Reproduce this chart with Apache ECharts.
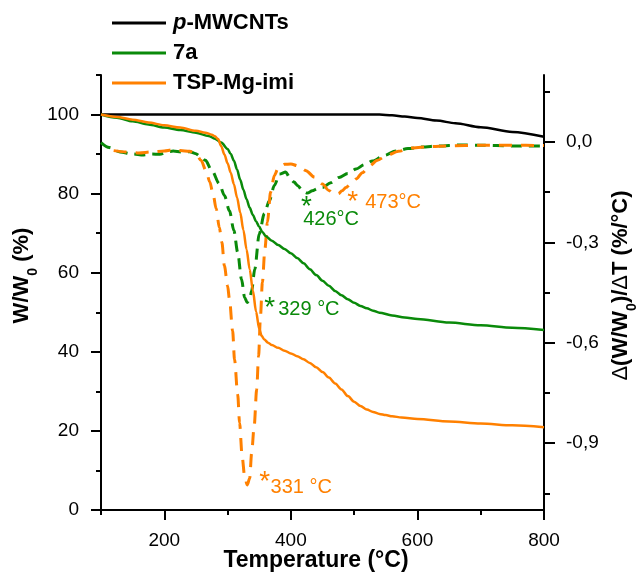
<!DOCTYPE html>
<html>
<head>
<meta charset="utf-8">
<script src="https://cdn.jsdelivr.net/npm/echarts@6/dist/echarts.min.js"></script>
<style>html,body{margin:0;padding:0;background:#fff}#c{width:639px;height:575px}</style>
</head>
<body>
<div id="c"></div>
<script>
// ---- Data ----
const legendNames = ['p-MWCNTs', '7a', 'TSP-Mg-imi'];

// TGA: p-MWCNTs
const mwT = [100, 200, 300, 400, 500, 540, 560, 580, 600, 630, 660, 700, 750, 800];
const mwW = [100, 100, 100, 100, 100, 100, 99.8, 99.5, 99.1, 98.5, 97.8, 96.8, 95.6, 94.4];

// TGA: 7a
const g7aT = [100, 125, 150, 175, 200, 225, 250, 270, 280, 290, 300, 305, 310, 315, 320, 325, 330, 335, 340, 345, 350, 355, 360, 370, 380, 390, 400, 410, 420, 430, 440, 450, 460, 470, 480, 490, 500, 510, 520, 530, 540, 560, 580, 600, 650, 700, 750, 800];
const g7aW = [100, 99.2, 98.3, 97.5, 96.7, 96.1, 95.4, 94.6, 93.9, 92.9, 91.3, 90.0, 88.3, 86.1, 83.5, 81.0, 78.6, 76.4, 74.6, 73.0, 71.6, 70.3, 69.3, 68.1, 67.0, 66.0, 64.9, 63.7, 62.4, 60.9, 59.4, 58.0, 56.7, 55.4, 54.3, 53.3, 52.4, 51.6, 51.0, 50.4, 49.9, 49.2, 48.7, 48.3, 47.4, 46.7, 46.1, 45.5];

// TGA: TSP-Mg-imi
const tspT = [100, 125, 150, 175, 200, 225, 250, 265, 275, 280, 285, 290, 295, 300, 305, 310, 315, 320, 325, 330, 335, 340, 345, 350, 354, 358, 364, 370, 380, 390, 400, 410, 420, 430, 440, 450, 460, 470, 480, 490, 500, 510, 520, 530, 540, 550, 560, 575, 600, 650, 700, 750, 800];
const tspW = [100, 99.4, 98.7, 98.0, 97.3, 96.7, 95.9, 95.4, 94.9, 94.5, 93.8, 92.0, 89.9, 87.7, 85.3, 82.4, 79.0, 75.2, 70.8, 65.9, 60.8, 55.5, 50.2, 45.8, 44.0, 43.1, 42.3, 41.7, 41.0, 40.3, 39.6, 38.9, 38.1, 37.2, 36.1, 34.9, 33.5, 32.0, 30.5, 28.8, 27.4, 26.3, 25.4, 24.8, 24.3, 24.0, 23.7, 23.4, 23.0, 22.4, 21.9, 21.4, 20.9];

// DTG: 7a (%/°C)
const d7aT = [100, 113, 130, 150, 167, 180, 193, 205, 214, 227, 240, 250, 256, 265, 275, 287, 295, 303, 310, 316, 322, 327, 331, 335, 338, 343, 350, 358, 366, 374, 382, 392, 398, 405, 411, 419, 426, 434, 442, 450, 463, 476, 490, 503, 516, 529, 548, 566, 585, 607, 635, 665, 700, 750, 800];
const d7aD = [-0.002, -0.017, -0.030, -0.036, -0.039, -0.036, -0.037, -0.030, -0.027, -0.030, -0.029, -0.035, -0.042, -0.055, -0.085, -0.125, -0.160, -0.206, -0.265, -0.330, -0.410, -0.465, -0.480, -0.470, -0.445, -0.380, -0.275, -0.215, -0.176, -0.130, -0.096, -0.090, -0.106, -0.120, -0.131, -0.148, -0.153, -0.146, -0.140, -0.136, -0.122, -0.106, -0.094, -0.081, -0.068, -0.057, -0.040, -0.027, -0.020, -0.015, -0.012, -0.009, -0.010, -0.012, -0.012];

// DTG: TSP-Mg-imi (%/°C)
const dtspT = [120, 140, 160, 180, 200, 212, 225, 240, 250, 258, 266, 272, 277, 282, 287, 291, 295, 300, 303, 308, 311, 316, 319, 323, 327, 331, 335, 338, 342, 346, 349, 352, 355, 359, 363, 368, 374, 380, 390, 400, 412, 424, 437, 450, 460, 468, 475, 481, 487, 495, 503, 513, 524, 537, 550, 570, 592, 620, 650, 700, 750, 800];
const dtspD = [-0.026, -0.030, -0.033, -0.030, -0.027, -0.024, -0.026, -0.028, -0.036, -0.055, -0.086, -0.120, -0.155, -0.200, -0.256, -0.300, -0.370, -0.430, -0.470, -0.565, -0.650, -0.755, -0.840, -0.940, -1.000, -1.025, -1.005, -0.930, -0.850, -0.740, -0.640, -0.520, -0.420, -0.320, -0.240, -0.150, -0.100, -0.078, -0.067, -0.066, -0.072, -0.086, -0.105, -0.126, -0.145, -0.156, -0.155, -0.146, -0.136, -0.124, -0.111, -0.092, -0.072, -0.055, -0.042, -0.028, -0.018, -0.014, -0.012, -0.010, -0.010, -0.011];

// Tick values
const xMajor = [200, 400, 600, 800];
const xMinor = [100, 300, 500, 700];
const yLMajor = [0, 20, 40, 60, 80, 100];
const yLMinor = [10, 30, 50, 70, 90, 110];
const yRMajor = [-0.9, -0.6, -0.3, 0];
const yRMinor = [-1.05, -0.75, -0.45, -0.15, 0.15];

// Peak annotations (in data units on the DTG axis)
const annGreen = [
  {T: 358, D: -0.497, text: '*', star: true},
  {T: 380, D: -0.501, text: '329 °C'},
  {T: 416, D: -0.194, text: '*', star: true},
  {T: 419.5, D: -0.233, text: '426°C'}
];
const annOrange = [
  {T: 350, D: -1.017, text: '*', star: true},
  {T: 368, D: -1.032, text: '331 °C'},
  {T: 489, D: -0.179, text: '*', star: true},
  {T: 517.5, D: -0.181, text: '473°C'}
];

// ---- Chart ----
const GREEN = '#0a8a0a', ORANGE = '#ff8000', BLACK = '#000000';
const FONT = '"Liberation Sans", Arial, Helvetica, sans-serif';
const zip = (a, b) => a.map((v, i) => [v, b[i]]);
const mp = (arr, color) => ({
  silent: true,
  symbol: 'circle', symbolSize: 0,
  data: arr.map(a => ({
    coord: [a.T, a.D],
    label: {
      show: true, position: 'right', distance: 0, formatter: a.text,
      color: color, fontFamily: FONT, fontSize: a.star ? 28 : 20,
      align: 'left', verticalAlign: 'middle'
    }
  }))
});

const chart = echarts.init(document.getElementById('c'), null, {renderer: 'canvas'});
const axisLineStyle = {color: BLACK, width: 2};
const tickStyle = {color: BLACK, width: 2};
const labelStyle = {color: BLACK, fontSize: 19, fontFamily: FONT};

chart.setOption({
  animation: false,
  backgroundColor: '#fff',
  textStyle: {fontFamily: FONT},
  grid: {left: 101, right: 95, top: 75, bottom: 65, containLabel: false, outerBoundsMode: 'none'},
  legend: {
    data: legendNames,
    orient: 'vertical', left: 107, top: 7,
    icon: 'rect', itemWidth: 54, itemHeight: 3, itemGap: 8,
    selectedMode: false,
    formatter: n => n === 'p-MWCNTs' ? '{i|p}{b|-MWCNTs}' : '{b|' + n + '}',
    textStyle: {
      color: BLACK, fontSize: 22, fontWeight: 'bold', fontFamily: FONT, lineHeight: 22,
      padding: [0, 0, 0, 2],
      rich: {
        i: {fontStyle: 'italic', fontWeight: 'bold', fontSize: 22, fontFamily: FONT, color: BLACK, lineHeight: 22},
        b: {fontWeight: 'bold', fontSize: 22, fontFamily: FONT, color: BLACK, lineHeight: 22}
      }
    }
  },
  xAxis: [
    {
      type: 'value', position: 'bottom', min: 100, max: 800,
      axisLine: {show: true, onZero: false, lineStyle: axisLineStyle},
      axisTick: {show: true, length: 10, customValues: xMajor, lineStyle: tickStyle},
      axisLabel: {show: true, customValues: xMajor, margin: 21, ...labelStyle},
      splitLine: {show: false},
      name: 'Temperature (°C)', nameLocation: 'middle', nameGap: 39, nameMoveOverlap: false,
      nameTextStyle: {color: BLACK, fontSize: 23, fontWeight: 'bold', fontFamily: FONT, padding: [0, 13, 0, 0]}
    },
    {
      type: 'value', position: 'bottom', min: 100, max: 800,
      axisLine: {show: false, onZero: false},
      axisTick: {show: true, length: 5, customValues: xMinor, lineStyle: tickStyle},
      axisLabel: {show: false},
      splitLine: {show: false}
    }
  ],
  yAxis: [
    {
      type: 'value', position: 'left', min: 0, max: 110,
      axisLine: {show: true, onZero: false, lineStyle: axisLineStyle},
      axisTick: {show: true, length: 10, customValues: yLMajor, lineStyle: tickStyle},
      axisLabel: {show: true, customValues: yLMajor, margin: 22, ...labelStyle},
      splitLine: {show: false},
      name: '{b|W/W}{s|0}{b| (%)}', nameLocation: 'middle', nameGap: 67, nameRotate: 90, nameMoveOverlap: false,
      nameTextStyle: {
        color: BLACK, fontSize: 22, fontWeight: 'bold', fontFamily: FONT, padding: [0, 0, 0, 34],
        rich: {
          b: {fontSize: 22, fontWeight: 'bold', fontFamily: FONT, color: BLACK, lineHeight: 24},
          s: {fontSize: 14, fontWeight: 'bold', fontFamily: FONT, color: BLACK, lineHeight: 24, verticalAlign: 'bottom', padding: [0, 0, -6, 0]}
        }
      }
    },
    {
      type: 'value', position: 'left', min: 0, max: 110,
      axisLine: {show: false, onZero: false},
      axisTick: {show: true, length: 5, customValues: yLMinor, lineStyle: tickStyle},
      axisLabel: {show: false},
      splitLine: {show: false}
    },
    {
      type: 'value', position: 'right', min: -1.1, max: 0.2,
      axisLine: {show: true, onZero: false, lineStyle: axisLineStyle},
      axisTick: {show: true, length: 11, customValues: yRMajor, lineStyle: tickStyle},
      axisLabel: {
        show: true, customValues: yRMajor, margin: 22, ...labelStyle,
        formatter: v => (Math.abs(v) < 1e-9 ? 0 : v).toFixed(1).replace('.', ',')
      },
      splitLine: {show: false},
      name: '{d|Δ}{b|(W/W}{s|0}{b|)/}{d|Δ}{b|T (%/°C)}', nameLocation: 'middle', nameGap: 65, nameRotate: 90, nameMoveOverlap: false,
      nameTextStyle: {
        color: BLACK, fontSize: 22, fontWeight: 'bold', fontFamily: FONT, padding: [0, 0, 0, 14],
        rich: {
          b: {fontSize: 22, fontWeight: 'bold', fontFamily: FONT, color: BLACK, lineHeight: 24},
          d: {fontSize: 22, fontWeight: 'normal', fontFamily: FONT, color: BLACK, lineHeight: 24},
          s: {fontSize: 14, fontWeight: 'bold', fontFamily: FONT, color: BLACK, lineHeight: 24, verticalAlign: 'bottom', padding: [0, 0, -6, 0]}
        }
      }
    },
    {
      type: 'value', position: 'right', min: -1.1, max: 0.2,
      axisLine: {show: false, onZero: false},
      axisTick: {show: true, length: 6, customValues: yRMinor, lineStyle: tickStyle},
      axisLabel: {show: false},
      splitLine: {show: false}
    }
  ],
  series: [
    {
      name: 'p-MWCNTs', type: 'line', xAxisIndex: 0, yAxisIndex: 0,
      data: zip(mwT, mwW), showSymbol: false, smooth: 0.3, smoothMonotone: 'x',
      color: BLACK, lineStyle: {color: BLACK, width: 2.5}, z: 2
    },
    {
      name: '7a DTG', type: 'line', xAxisIndex: 0, yAxisIndex: 2,
      data: zip(d7aT, d7aD), showSymbol: false, smooth: 0.3, smoothMonotone: 'x',
      color: GREEN, lineStyle: {color: GREEN, width: 3, type: [11, 7]}, z: 3,
      markPoint: mp(annGreen, GREEN)
    },
    {
      name: 'TSP DTG', type: 'line', xAxisIndex: 0, yAxisIndex: 2,
      data: zip(dtspT, dtspD), showSymbol: false, smooth: 0.3, smoothMonotone: 'x',
      color: ORANGE, lineStyle: {color: ORANGE, width: 3, type: [13, 9]}, z: 3,
      markPoint: mp(annOrange, ORANGE)
    },
    {
      name: '7a', type: 'line', xAxisIndex: 0, yAxisIndex: 0,
      data: zip(g7aT, g7aW), showSymbol: false, smooth: 0.3, smoothMonotone: 'x',
      color: GREEN, lineStyle: {color: GREEN, width: 2.5}, z: 4
    },
    {
      name: 'TSP-Mg-imi', type: 'line', xAxisIndex: 0, yAxisIndex: 0,
      data: zip(tspT, tspW), showSymbol: false, smooth: 0.3, smoothMonotone: 'x',
      color: ORANGE, lineStyle: {color: ORANGE, width: 2.5}, z: 5
    }
  ]
});
</script>
</body>
</html>
